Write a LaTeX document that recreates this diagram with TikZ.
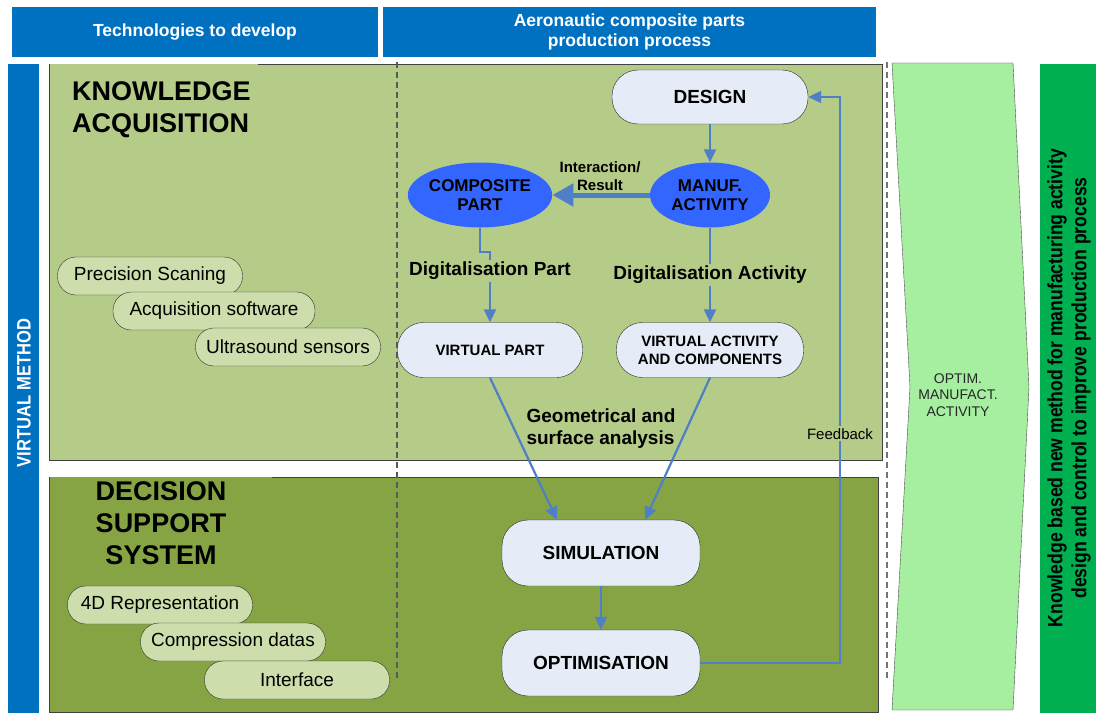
\documentclass[tikz,border=0pt]{standalone}
\usepackage{fontspec}
\setmainfont{Liberation Sans}
\newfontfamily\narrowfont[FakeStretch=0.85]{Liberation Sans}
\usetikzlibrary{arrows.meta, shapes.geometric}

\definecolor{headblue}{HTML}{0070C0}
\definecolor{kafill}{HTML}{B5CB88}
\definecolor{dssfill}{HTML}{86A444}
\definecolor{pillfill}{HTML}{CDDDAC}
\definecolor{boxfill}{HTML}{E5ECF7}
\definecolor{blobblue}{HTML}{3366FF}
\definecolor{linkblue}{HTML}{4F7FC6}
\definecolor{chevgreen}{HTML}{A6EFA0}
\definecolor{goalgreen}{HTML}{00B050}

\newcommand{\fsz}[2]{\fontsize{#1}{#2}\selectfont}

\tikzset{
  headbox/.style={fill=headblue, text=white, font=\fsz{17.5}{20}\bfseries, align=center, inner sep=0pt, minimum height=50pt},
  procbox/.style={draw=black!85, fill=boxfill, rounded corners=26pt, font=\fsz{19}{22}\bfseries, align=center, inner sep=0pt},
  techpill/.style={draw=black!80, fill=pillfill, rounded corners=18.5pt, minimum width=185pt, minimum height=38pt, font=\fsz{19}{21}, inner sep=0pt},
  blob/.style={ellipse, fill=blobblue, font=\fsz{17}{19}\bfseries, align=center, minimum height=65pt, inner sep=0pt},
  flow/.style={draw=linkblue, line width=2.2pt, -{Triangle[length=13pt,width=12pt]}},
  steplabel/.style={font=\fsz{19}{22}\bfseries, fill=kafill, inner sep=2pt},
  title/.style={font=\fsz{27}{32}\bfseries, inner sep=0pt}
}

\begin{document}
\begin{tikzpicture}[x=1pt, y=-1pt]
\useasboundingbox (0,0) rectangle (1096,717);
\fill[white] (0,0) rectangle (1096,717);

\node[headbox, minimum width=366pt] (techhead) at (195,32) {Technologies to develop};
\node[headbox, minimum width=493pt] (prodhead) at (629.5,32) {Aeronautic composite parts\\production process};

\fill[headblue] (8,64) rectangle (39,713);
\node[rotate=90, text=white, font=\narrowfont\fsz{19.5}{22}\bfseries] (virtual) at (24,393) {VIRTUAL METHOD};

\fill[kafill] (49,64) rectangle (882,460);
\draw[black!75] (258,64) -| (882,460) -| (49,64);
\fill[dssfill] (49,477) rectangle (878,712);
\draw[black!75] (272,477) -| (878,712) -| (49,477);

\draw[black!65, line width=1.2pt, dash pattern=on 6pt off 4pt] (397,62) -- (397,680);
\draw[black!55, line width=1.2pt, dash pattern=on 6pt off 4pt] (887,62) -- (887,680);

\node[title, anchor=west, align=left] (katitle) at (72,110) {KNOWLEDGE\\ACQUISITION};
\node[title, align=center] (dsstitle) at (161,523) {DECISION\\SUPPORT\\SYSTEM};

\node[techpill] (scan) at (150,276) {Precision Scaning};
\node[techpill, minimum width=202pt] (acqsoft) at (214,311) {Acquisition software};
\node[techpill] (ultra) at (288,347) {Ultrasound sensors};
\node[techpill] (repr) at (160,605) {4D Representation};
\node[techpill] (compr) at (233,642) {Compression datas};
\node[techpill] (iface) at (297,680) {Interface};

\node[procbox, minimum width=196pt, minimum height=54pt] (design) at (710,97) {DESIGN};
\node[blob, minimum width=140pt] (cpart) at (480,195) {COMPOSITE\\PART};
\node[blob, minimum width=120pt] (manuf) at (710,195) {MANUF.\\ACTIVITY};
\node[procbox, minimum width=185pt, minimum height=55pt, font=\fsz{15}{18}\bfseries] (vpart) at (490,350) {VIRTUAL PART};
\node[procbox, minimum width=187pt, minimum height=55pt, font=\fsz{15}{18}\bfseries] (vact) at (710,350) {VIRTUAL ACTIVITY\\AND COMPONENTS};
\node[procbox, minimum width=198pt, minimum height=66pt] (sim) at (601,553) {SIMULATION};
\node[procbox, minimum width=198pt, minimum height=66pt] (optim) at (601,663) {OPTIMISATION};

\draw[flow] (design) -- (manuf);
\draw[draw=linkblue, line width=5pt, -{Triangle[length=21pt,width=22pt]}] (manuf) -- (cpart);
\node[font=\fsz{15}{18}\bfseries, align=center] (interact) at (600,176) {Interaction/\\Result};
\draw[flow] (cpart.south) -- (480,252) -- (490,252) -- node[steplabel, pos=0.27] {Digitalisation Part} (vpart.north);
\draw[flow] (manuf) -- node[steplabel] {Digitalisation Activity} (vact);
\draw[flow] (vpart.south) -- (sim.143);
\draw[flow] (vact.south) -- (sim.37);
\node[font=\fsz{19}{22}\bfseries, align=left] (geom) at (601,429) {Geometrical and\\surface analysis};
\draw[flow] (sim) -- (optim);
\draw[flow] (optim.east) -- (840,663) -- node[pos=0.405, fill=kafill, inner sep=2pt, font=\fsz{15}{18}] {Feedback} (840,97) -- (design.east);

\filldraw[fill=chevgreen, draw=black!70] (892,63) -- (1013,63) -- (1029,387) -- (1013,710) -- (892,710) -- (910,387) -- cycle;
\node[align=center, text=black!85, font=\fsz{14}{16.5}] (optact) at (958,395) {OPTIM.\\MANUFACT.\\ACTIVITY};

\fill[goalgreen] (1040,64) rectangle (1096,713);
\node[rotate=90, align=center, font=\narrowfont\fsz{20.7}{24}\bfseries] (goal) at (1069,388) {Knowledge based new method for manufacturing activity\\design and control to improve production process};
\end{tikzpicture}
\end{document}
